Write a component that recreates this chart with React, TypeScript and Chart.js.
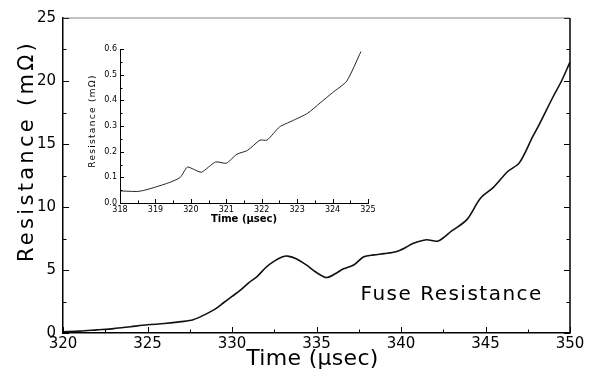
import React, { useEffect, useRef } from "react";
import { Chart, registerables } from "chart.js";

Chart.register(...registerables);

// Main trace: fuse resistance vs time
const mainTime = [320, 321, 322, 323, 324, 325, 326, 327, 327.7, 328.3, 329, 329.5, 330, 330.5, 331, 331.5, 332, 332.5, 333, 333.3, 333.8, 334.4, 335, 335.6, 336.1, 336.6, 337.2, 337.8, 338.4, 339, 339.7, 340.3, 340.7, 341.5, 342.2, 343, 343.9, 344.7, 345.5, 346.3, 347, 347.8, 348.2, 349, 349.5, 350];
const mainResistance = [0.1, 0.15, 0.25, 0.35, 0.5, 0.65, 0.75, 0.9, 1.05, 1.4, 1.9, 2.4, 2.9, 3.4, 4.0, 4.5, 5.2, 5.7, 6.05, 6.1, 5.9, 5.4, 4.8, 4.4, 4.7, 5.1, 5.4, 6.05, 6.2, 6.3, 6.45, 6.8, 7.1, 7.4, 7.3, 8.1, 9.0, 10.7, 11.6, 12.8, 13.5, 15.6, 16.6, 18.75, 20.0, 21.5];

// Inset trace: early-time detail
const insetTime = [318, 318.5, 318.7, 319.0, 319.4, 319.7, 319.9, 320.1, 320.3, 320.7, 321.0, 321.3, 321.6, 321.95, 322.15, 322.5, 322.86, 323.3, 323.65, 324.0, 324.4, 324.8];
const insetResistance = [0.047, 0.045, 0.05, 0.062, 0.08, 0.1, 0.14, 0.13, 0.12, 0.16, 0.155, 0.19, 0.205, 0.245, 0.245, 0.296, 0.32, 0.35, 0.39, 0.43, 0.475, 0.59];

const mainXRange = [320, 350];
const mainYRange = [0, 25];
const insetXRange = [318, 325];
const insetYRange = [0, 0.6];

const xTitle = "Time (\u03bcsec)";
const yTitle = "Resistance (m\u03a9)";
const annotationText = "Fuse Resistance";
const annotationAt = [343.0, 3.0];

const FONT = "'DejaVu Sans', 'Liberation Sans', sans-serif";

function tickPlugin(major: number, minor: number, box: boolean) {
  return {
    id: "tickMarks",
    afterDatasetsDraw(chart: any) {
      const { ctx, chartArea, scales } = chart;
      const { left, right, top, bottom } = chartArea;
      ctx.save();
      ctx.strokeStyle = "#000";
      ctx.lineWidth = 1;
      ctx.beginPath();
      scales.x.ticks.forEach((t: any) => {
        const px = Math.round(scales.x.getPixelForValue(t.value)) + 0.5;
        const len = t.label !== "" ? major : minor;
        ctx.moveTo(px, bottom);
        ctx.lineTo(px, bottom - len);
      });
      scales.y.ticks.forEach((t: any) => {
        const py = Math.round(scales.y.getPixelForValue(t.value)) + 0.5;
        const len = t.label !== "" ? major : minor;
        ctx.moveTo(left, py);
        ctx.lineTo(left + len, py);
        if (box) {
          ctx.moveTo(right, py);
          ctx.lineTo(right - len, py);
        }
      });
      ctx.stroke();
      if (box) {
        ctx.lineWidth = 1.5;
        ctx.beginPath();
        ctx.moveTo(right, bottom);
        ctx.lineTo(right, top);
        ctx.stroke();
        ctx.lineWidth = 0.8;
        ctx.strokeStyle = "#666";
        ctx.beginPath();
        ctx.moveTo(left, top);
        ctx.lineTo(right, top);
        ctx.stroke();
      }
      ctx.restore();
    },
  };
}

type TitleCfg = {
  size: number;
  weight: string;
  ySize?: number;
  yWeight?: string;
  xSpacing: number;
  ySpacing: number;
  xPos: [number, number]; // x from chartArea centre, y below chartArea bottom
  yPos: [number, number]; // x from canvas left, y from chartArea top
};

function titlePlugin(cfg: TitleCfg) {
  return {
    id: "axisTitles",
    afterDraw(chart: any) {
      const { ctx, chartArea } = chart;
      ctx.save();
      ctx.fillStyle = "#000";
      ctx.textAlign = "center";
      ctx.textBaseline = "middle";
      ctx.font = `${cfg.weight} ${cfg.size}px ${FONT}`;
      (ctx as any).letterSpacing = `${cfg.xSpacing}px`;
      ctx.fillText(xTitle, (chartArea.left + chartArea.right) / 2 + cfg.xPos[0], chartArea.bottom + cfg.xPos[1]);
      ctx.font = `${cfg.yWeight ?? cfg.weight} ${cfg.ySize ?? cfg.size}px ${FONT}`;
      (ctx as any).letterSpacing = `${cfg.ySpacing}px`;
      ctx.translate(cfg.yPos[0], chartArea.top + cfg.yPos[1]);
      ctx.rotate(-Math.PI / 2);
      ctx.fillText(yTitle, 0, 0);
      ctx.restore();
    },
  };
}

const annotationPlugin = {
  id: "annotation",
  afterDatasetsDraw(chart: any) {
    const { ctx, scales } = chart;
    const x = scales.x.getPixelForValue(annotationAt[0]);
    const y = scales.y.getPixelForValue(annotationAt[1]);
    ctx.save();
    ctx.font = `20px ${FONT}`;
    (ctx as any).letterSpacing = "1.5px";
    ctx.fillStyle = "#000";
    ctx.textAlign = "center";
    ctx.textBaseline = "middle";
    ctx.fillText(annotationText, x, y);
    ctx.restore();
  },
};

export default function App() {
  const mainRef = useRef<HTMLCanvasElement>(null);
  const insetRef = useRef<HTMLCanvasElement>(null);

  useEffect(() => {
    const main = new Chart(mainRef.current!, {
      type: "scatter",
      data: {
        datasets: [
          {
            data: mainTime.map((t, i) => ({ x: t, y: mainResistance[i] })),
            showLine: true,
            borderColor: "#111",
            borderWidth: 1.6,
            pointRadius: 0,
            tension: 0.3,
          },
        ],
      },
      options: {
        animation: false,
        responsive: false,
        devicePixelRatio: 1,
        layout: { padding: { left: 0, right: 19, top: 18, bottom: 0 } },
        plugins: { legend: { display: false }, tooltip: { enabled: false } },
        scales: {
          x: {
            type: "linear",
            min: mainXRange[0],
            max: mainXRange[1],
            afterFit: (s: any) => { s.height = 46; },
            grid: { display: false, drawTicks: false },
            border: { display: true, color: "#000", width: 1.5 },
            ticks: {
              stepSize: 2.5,
              autoSkip: false,
              maxRotation: 0,
              padding: 2,
              color: "#000",
              font: { family: FONT, size: 15 },
              callback: (v: any) => (Number(v) % 5 === 0 ? String(v) : ""),
            },
            title: { display: false },
          },
          y: {
            type: "linear",
            min: mainYRange[0],
            max: mainYRange[1],
            afterFit: (s: any) => { s.width = 63; },
            grid: { display: false, drawTicks: false },
            border: { display: true, color: "#000", width: 1.5 },
            ticks: {
              stepSize: 2.5,
              autoSkip: false,
              padding: 7,
              color: "#000",
              font: { family: FONT, size: 15 },
              callback: (v: any) => (Number(v) % 5 === 0 ? String(v) : ""),
            },
            title: { display: false },
          },
        },
      },
      plugins: [
        tickPlugin(6, 3.5, true),
        annotationPlugin,
        titlePlugin({ size: 22, weight: "normal", ySize: 21, xSpacing: 0.3, ySpacing: 3.3, xPos: [-4, 26], yPos: [28, 133] }),
      ],
    });

    const inset = new Chart(insetRef.current!, {
      type: "scatter",
      data: {
        datasets: [
          {
            data: insetTime.map((t, i) => ({ x: t, y: insetResistance[i] })),
            showLine: true,
            borderColor: "#222",
            borderWidth: 1,
            pointRadius: 0,
            tension: 0.2,
          },
        ],
      },
      options: {
        animation: false,
        responsive: false,
        devicePixelRatio: 1,
        layout: { padding: { left: 0, right: 12, top: 9, bottom: 0 } },
        plugins: { legend: { display: false }, tooltip: { enabled: false } },
        scales: {
          x: {
            type: "linear",
            min: insetXRange[0],
            max: insetXRange[1],
            afterFit: (s: any) => { s.height = 27; },
            grid: { display: false, drawTicks: false },
            border: { display: true, color: "#000", width: 1 },
            ticks: {
              stepSize: 0.5,
              autoSkip: false,
              maxRotation: 0,
              padding: 2,
              color: "#000",
              font: { family: FONT, size: 8 },
              callback: (v: any) => (Number.isInteger(Number(v)) ? String(v) : ""),
            },
            title: { display: false },
          },
          y: {
            type: "linear",
            min: insetYRange[0],
            max: insetYRange[1],
            afterFit: (s: any) => { s.width = 50; },
            grid: { display: false, drawTicks: false },
            border: { display: true, color: "#000", width: 1 },
            ticks: {
              stepSize: 0.05,
              autoSkip: false,
              padding: 3,
              color: "#000",
              font: { family: FONT, size: 8 },
              callback: (v: any) => {
                const n = Math.round(Number(v) * 100);
                return n % 10 === 0 ? (n / 100).toFixed(1) : "";
              },
            },
            title: { display: false },
          },
        },
      },
      plugins: [
        tickPlugin(4, 2.5, false),
        titlePlugin({ size: 10, weight: "bold", ySize: 9, yWeight: "normal", xSpacing: 0, ySpacing: 1.3, xPos: [0, 16], yPos: [23, 72] }),
      ],
    });

    return () => {
      main.destroy();
      inset.destroy();
    };
  }, []);

  return (
    <div style={{ position: "absolute", left: 0, top: 0, width: 589, height: 379, background: "#fff" }}>
      <canvas ref={mainRef} width={589} height={379} style={{ position: "absolute", left: 0, top: 0 }} />
      <canvas ref={insetRef} width={310} height={190} style={{ position: "absolute", left: 70, top: 40 }} />
    </div>
  );
}
